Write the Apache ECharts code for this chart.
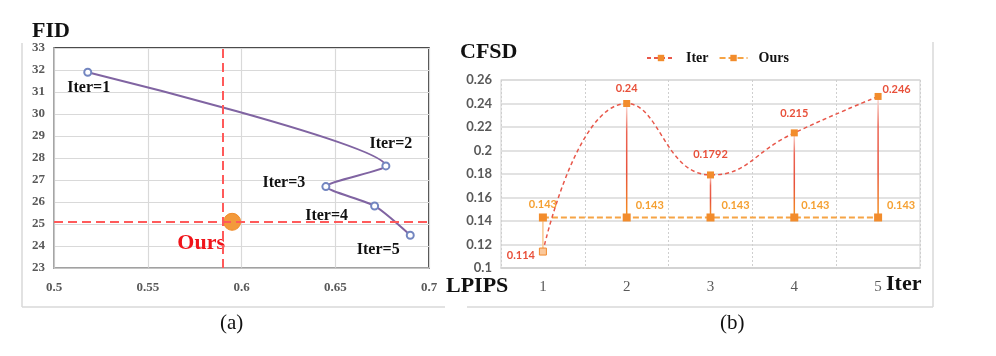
<!DOCTYPE html>
<html>
<head>
<meta charset="utf-8">
<script src="https://cdn.jsdelivr.net/npm/echarts@6/dist/echarts.min.js"></script>
<style>html,body{margin:0;padding:0;background:#fff;}#c{width:996px;height:356px;}</style>
</head>
<body>
<div id="c"></div>
<script>
// ---- data: chart (a) ----
const iterNames = ['Iter=1', 'Iter=2', 'Iter=3', 'Iter=4', 'Iter=5'];
const lpipsValues = [0.518, 0.677, 0.645, 0.671, 0.690];
const fidValues = [31.9, 27.64, 26.7, 25.82, 24.49];
const oursLpips = 0.595;
const oursFid = 25.1;
const lpipsTicks = [0.5, 0.55, 0.6, 0.65, 0.7];
const fidTicks = [23, 24, 25, 26, 27, 28, 29, 30, 31, 32, 33];
// ---- data: chart (b) ----
const iterCategories = ['1', '2', '3', '4', '5'];
const cfsdIter = [0.114, 0.24, 0.1792, 0.215, 0.246];
const cfsdOurs = [0.143, 0.143, 0.143, 0.143, 0.143];
const cfsdTicks = [0.1, 0.12, 0.14, 0.16, 0.18, 0.2, 0.22, 0.24, 0.26];

const serif = 'Liberation Serif';
const sans = 'Lato';
const chart = echarts.init(document.getElementById('c'), null, {renderer: 'canvas'});

// label placement for chart (a) points (layout, not data)
const iterLabelOffsets = [[1, 16], [5, -22], [-42, -4], [-48, 10], [-32, 15]];
// label placement for chart (b)
const iterValLabel = [
  {position: 'left', distance: 4, offset: [0, 4]},
  {position: 'top', distance: 6},
  {position: 'top', distance: 11},
  {position: 'top', distance: 10},
  {position: 'right', distance: 1, offset: [0, -7]}
];
const oursValLabel = [
  {position: 'top', distance: 4},
  {position: 'right', distance: 5, offset: [0, -12]},
  {position: 'right', distance: 7, offset: [0, -12]},
  {position: 'right', distance: 3, offset: [0, -12]},
  {position: 'right', distance: 5, offset: [0, -12]}
];

const option = {
  animation: false,
  grid: [
    {left: 54, top: 48, width: 375, height: 220, show: true, borderColor: '#111', borderWidth: 1.5, backgroundColor: 'transparent'},
    {left: 501, top: 80, width: 419, height: 188, show: true, borderColor: '#D9D9D9', borderWidth: 1.2, backgroundColor: 'transparent'}
  ],
  xAxis: [
    {
      gridIndex: 0, type: 'value',
      min: lpipsTicks[0], max: lpipsTicks[lpipsTicks.length - 1], interval: lpipsTicks[1] - lpipsTicks[0],
      axisLine: {show: true, lineStyle: {color: '#BFBFBF', width: 1.5}},
      axisTick: {show: false},
      axisLabel: {color: '#595959', fontFamily: serif, fontWeight: 'bold', fontSize: 13, margin: 13,
        formatter: v => String(+v.toFixed(2))},
      splitLine: {show: true, lineStyle: {color: '#D9D9D9', width: 1.2}}
    },
    {
      gridIndex: 1, type: 'category', data: iterCategories, boundaryGap: true,
      axisLine: {show: true, lineStyle: {color: '#D0D0D0', width: 1.5}},
      axisTick: {show: false},
      axisLabel: {color: '#595959', fontFamily: serif, fontSize: 15, margin: 12},
      splitLine: {show: true, lineStyle: {color: '#CFCFCF', width: 1, type: [2, 2]}}
    }
  ],
  yAxis: [
    {
      gridIndex: 0, type: 'value',
      min: fidTicks[0], max: fidTicks[fidTicks.length - 1], interval: fidTicks[1] - fidTicks[0],
      axisLine: {show: true, lineStyle: {color: '#BFBFBF', width: 1.5}},
      axisTick: {show: false},
      axisLabel: {color: '#595959', fontFamily: serif, fontWeight: 'bold', fontSize: 13, margin: 9},
      splitLine: {show: true, lineStyle: {color: '#D9D9D9', width: 1.2}}
    },
    {
      gridIndex: 1, type: 'value',
      min: cfsdTicks[0], max: cfsdTicks[cfsdTicks.length - 1], interval: 0.02,
      axisLine: {show: false},
      axisTick: {show: false},
      axisLabel: {color: '#595959', fontFamily: sans, fontWeight: 'bold', fontSize: 13, margin: 9,
        formatter: v => String(+v.toFixed(2))},
      splitLine: {show: true, lineStyle: {color: '#D9D9D9', width: 1.5}}
    }
  ],
  legend: {
    left: 641, top: 46, itemWidth: 28, itemHeight: 8, itemGap: 10,
    data: ['Iter', 'Ours'],
    textStyle: {fontFamily: serif, fontWeight: 'bold', fontSize: 14, color: '#111', padding: [0, 0, 0, 6]}
  },
  series: [
    // chart (a): iteration curve
    {
      type: 'line', xAxisIndex: 0, yAxisIndex: 0, smooth: 0.22,
      data: lpipsValues.map((x, i) => ({
        value: [x, fidValues[i]],
        label: {show: true, formatter: iterNames[i], offset: iterLabelOffsets[i]}
      })),
      symbol: 'circle', symbolSize: 7,
      itemStyle: {color: '#fff', borderColor: '#7386C0', borderWidth: 2},
      lineStyle: {color: '#8064A2', width: 2},
      label: {position: 'inside', fontFamily: serif, fontWeight: 'bold', fontSize: 16, color: '#111'},
      z: 3
    },
    // chart (a): ours point with dashed guides
    {
      type: 'scatter', xAxisIndex: 0, yAxisIndex: 0,
      data: [[oursLpips, oursFid]],
      symbolSize: 17,
      itemStyle: {color: '#F39A3B', borderColor: '#F08A28', borderWidth: 1, opacity: 1},
      label: {show: true, formatter: 'Ours', position: 'inside', offset: [-31, 22],
        fontFamily: serif, fontWeight: 'bold', fontSize: 22, color: '#F0141A'},
      markLine: {
        silent: true, symbol: 'none', label: {show: false},
        lineStyle: {color: '#FF5A5A', width: 2, type: [9, 5]},
        data: [{xAxis: oursLpips}, {yAxis: oursFid}]
      },
      z: 4
    },
    // chart (b): high-low drop lines
    {
      type: 'custom', xAxisIndex: 1, yAxisIndex: 1,
      data: cfsdIter.map((v, i) => [i, v, cfsdOurs[i]]),
      encode: {x: 0, y: [1, 2]},
      renderItem: function (params, api) {
        const i = api.value(0);
        const a = api.coord([i, api.value(1)]);
        const b = api.coord([i, api.value(2)]);
        const top = Math.min(a[1], b[1]), bottom = Math.max(a[1], b[1]);
        let stroke;
        if (api.value(1) > api.value(2)) {
          stroke = new echarts.graphic.LinearGradient(0, top, 0, bottom, [
            {offset: 0, color: '#FCE3DE'},
            {offset: 0.25, color: '#EC6452'},
            {offset: 0.6, color: '#E8523C'},
            {offset: 1, color: '#F5931E'}
          ], true);
        } else {
          stroke = '#F9C890';
        }
        return {
          type: 'line',
          shape: {x1: a[0], y1: a[1], x2: b[0], y2: b[1]},
          style: {stroke: stroke, lineWidth: 1.5}
        };
      },
      z: 1
    },
    // chart (b): Iter
    {
      name: 'Iter', type: 'line', xAxisIndex: 1, yAxisIndex: 1, smooth: 0.5,
      data: cfsdIter.map((v, i) => ({
        value: v,
        label: iterValLabel[i],
        itemStyle: i === 0 ? {color: '#FBC89A', borderColor: '#F08A30', borderWidth: 1} : undefined
      })),
      symbol: 'rect', symbolSize: 7,
      itemStyle: {color: '#F28C2C'},
      lineStyle: {color: '#E8574A', width: 1.5, type: [4, 3]},
      label: {show: true, fontFamily: sans, fontWeight: 'bold', fontSize: 11, color: '#E8503A',
        formatter: p => String(cfsdIter[p.dataIndex])},
      z: 3
    },
    // chart (b): Ours
    {
      name: 'Ours', type: 'line', xAxisIndex: 1, yAxisIndex: 1,
      data: cfsdOurs.map((v, i) => ({value: v, label: oursValLabel[i]})),
      symbol: 'rect', symbolSize: 8,
      itemStyle: {color: '#F28C2C'},
      lineStyle: {color: '#F6A445', width: 2, type: [6, 3]},
      label: {show: true, fontFamily: sans, fontWeight: 'bold', fontSize: 11, color: '#F5A032',
        formatter: p => String(cfsdOurs[p.dataIndex])},
      z: 2
    }
  ],
  graphic: [
    // chart area frames
    {type: 'line', shape: {x1: 22, y1: 43, x2: 22, y2: 307}, style: {stroke: '#D9D9D9', lineWidth: 1.5}},
    {type: 'line', shape: {x1: 22, y1: 307, x2: 445, y2: 307}, style: {stroke: '#D9D9D9', lineWidth: 1.5}},
    {type: 'line', shape: {x1: 467, y1: 307, x2: 933, y2: 307}, style: {stroke: '#D9D9D9', lineWidth: 1.5}},
    {type: 'line', shape: {x1: 933, y1: 42, x2: 933, y2: 307}, style: {stroke: '#D9D9D9', lineWidth: 1.5}},
    // titles / axis names
    {type: 'text', left: 32, top: 20, style: {text: 'FID', font: 'bold 22px "Liberation Serif"', fill: '#111'}},
    {type: 'text', left: 460, top: 41, style: {text: 'CFSD', font: 'bold 22px "Liberation Serif"', fill: '#111'}},
    {type: 'text', left: 446, top: 275, style: {text: 'LPIPS', font: 'bold 22px "Liberation Serif"', fill: '#111'}},
    {type: 'text', left: 886, top: 273, style: {text: 'Iter', font: 'bold 22px "Liberation Serif"', fill: '#111'}},
    {type: 'text', left: 220, top: 313, style: {text: '(a)', font: '21px "Liberation Serif"', fill: '#111'}},
    {type: 'text', left: 720, top: 313, style: {text: '(b)', font: '21px "Liberation Serif"', fill: '#111'}}
  ]
};
chart.setOption(option);
</script>
</body>
</html>
